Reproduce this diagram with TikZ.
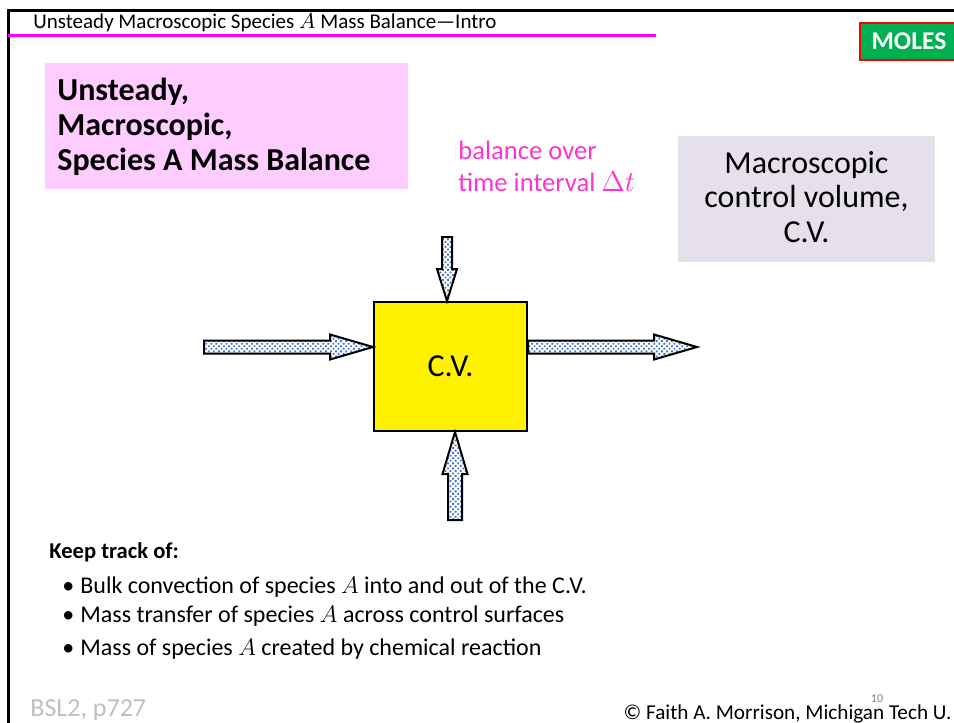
\documentclass[tikz,border=0pt]{standalone}
\usepackage{fontspec}
\setmainfont{Carlito}
\definecolor{mfmagenta}{RGB}{255,0,255}
\definecolor{mfpink}{RGB}{255,204,255}
\definecolor{mfrose}{RGB}{255,51,204}
\definecolor{mflilac}{RGB}{230,224,236}
\definecolor{mfgreen}{RGB}{0,176,80}
\definecolor{mfblue}{RGB}{68,114,196}
\definecolor{mfgray}{RGB}{191,191,191}
\usetikzlibrary{positioning,calc,patterns.meta}

\begin{document}
\begin{tikzpicture}[x=0.5pt,y=-0.5pt,
  hdr/.style={font=\fontsize{10.5}{12}\selectfont,anchor=base west,inner sep=0pt},
  bigbold/.style={font=\fontsize{16}{19}\selectfont\bfseries,anchor=base west,inner sep=0pt},
  bigtxt/.style={font=\fontsize{16}{19}\selectfont,anchor=base,inner sep=0pt},
  baltxt/.style={font=\fontsize{13.3}{16}\selectfont,text=mfrose,anchor=base west,inner sep=0pt},
  item/.style={font=\fontsize{12}{14}\selectfont,anchor=base west,inner sep=0pt},
  foot/.style={font=\fontsize{13}{15}\selectfont,inner sep=0pt},
  cvbox/.style={draw,line width=1pt,fill=yellow,minimum width=76.5pt,minimum height=64.5pt,
    font=\fontsize{16}{19}\selectfont},
  arrowfill/.style={draw=black,line width=1pt,preaction={fill=white},
    pattern={Dots[distance=1.8pt,radius=0.65pt,angle=45]},pattern color=mfblue},
  blockarrow/.style n args={3}{% shaft half width, head half width, head length
    to path={($(\tikztostart)!#1!90:(\tikztotarget)$)
      -- ($($(\tikztotarget)!#3!(\tikztostart)$)!#1!90:(\tikztotarget)$)
      -- ($($(\tikztotarget)!#3!(\tikztostart)$)!#2!90:(\tikztotarget)$)
      -- (\tikztotarget)
      -- ($($(\tikztotarget)!#3!(\tikztostart)$)!#2!-90:(\tikztotarget)$)
      -- ($($(\tikztotarget)!#3!(\tikztostart)$)!#1!-90:(\tikztotarget)$)
      -- ($(\tikztostart)!#1!-90:(\tikztotarget)$) -- cycle}}
]
  \useasboundingbox (0,0) rectangle (954,723);

  % slide frame and title
  \draw[line width=1.5pt] (8,730) -- (8,10) -- (960,10);
  \node[hdr] (head) at (33,28) {Unsteady Macroscopic Species $A$ Mass Balance---Intro};
  \draw[mfmagenta,line width=1.5pt] (8,35) -- (656,35);
  \node[draw=red,line width=1pt,fill=mfgreen,text=white,font=\fontsize{12.8}{14}\selectfont\bfseries,
    minimum width=49pt,minimum height=18.5pt] (moles) at (909,41.5) {MOLES};

  % intro box
  \node[fill=mfpink,anchor=north west,minimum width=181.5pt,minimum height=63pt] (intro) at (45,63) {};
  \node[bigbold] (t1) at (57,100) {Unsteady,};
  \node[bigbold] (t2) at (57,135) {Macroscopic,};
  \node[bigbold] (t3) at (57,170) {Species A Mass Balance};

  % time interval
  \node[baltxt] (b1) at (458,159) {balance over};
  \node[baltxt] (b2) at (458,191) {time interval $\Delta t$};

  % control volume note
  \node[fill=mflilac,anchor=north west,minimum width=128.5pt,minimum height=63pt] (note) at (678,136) {};
  \node[bigtxt] (n1) at (806.5,173) {Macroscopic};
  \node[bigtxt] (n2) at (806.5,207) {control volume,};
  \node[bigtxt] (n3) at (806.5,242) {C.V.};

  % control volume and flows
  \node[cvbox] (cv) at (450.5,366.5) {C.V.};
  \coordinate (inL) at (204,347);
  \coordinate (inLtip) at (cv.west |- inL);
  \coordinate (outR) at (697,347);
  \coordinate (outRtail) at (cv.east |- outR);
  \coordinate (inT) at (447,237);
  \coordinate (inTtip) at (inT |- cv.north);
  \coordinate (inB) at (455,520);
  \coordinate (inBtip) at (inB |- cv.south);
  \draw[arrowfill] (inL) to[blockarrow={3.25pt}{6.25pt}{21.5pt}] (inLtip);
  \draw[arrowfill] (outRtail) to[blockarrow={3.25pt}{6.25pt}{21.5pt}] (outR);
  \draw[arrowfill] (inT) to[blockarrow={2.5pt}{5pt}{16pt}] (inTtip);
  \draw[arrowfill] (inB) to[blockarrow={3.5pt}{6.25pt}{21pt}] (inBtip);

  % list
  \node[item,font=\fontsize{11.3}{14}\selectfont\bfseries] (keep) at (49,558) {Keep track of:};
  \node[item] (k1) at (62,593) {\textbullet\hspace{3pt}Bulk convection of species $A$ into and out of the C.V.};
  \node[item] (k2) at (62,622) {\textbullet\hspace{3pt}Mass transfer of species $A$ across control surfaces};
  \node[item] (k3) at (62,655) {\textbullet\hspace{3pt}Mass of species $A$ created by chemical reaction};

  % footer
  \node[foot,text=mfgray,anchor=base west] (src) at (30,716) {BSL2, p727};
  \node[foot,font=\fontsize{10.6}{13}\selectfont,anchor=base east] (copy) at (952,719) {© Faith A. Morrison, Michigan Tech U.};
  \node[foot,font=\fontsize{6}{7}\selectfont,text=gray,anchor=base] (page) at (877,702) {10};
\end{tikzpicture}
\end{document}
